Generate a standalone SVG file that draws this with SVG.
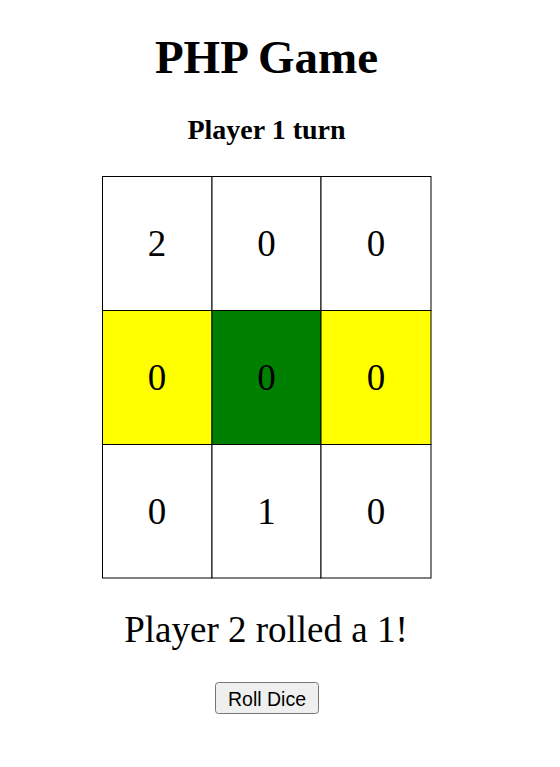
<svg xmlns="http://www.w3.org/2000/svg" width="560" height="767" viewBox="0 0 560 767">
<style>
.serif{font-family:"Liberation Serif","Times New Roman",serif;fill:#000;text-anchor:middle}
.title{font-size:47px;font-weight:bold}
.sub{font-size:28px;font-weight:bold}
.msg{font-size:37px}
.num{font-size:37px}
.cell{stroke:#000;stroke-width:1}
.w{fill:#fff}
.y{fill:#ffff00}
.g{fill:#008000}
.btn{fill:#efefef;stroke:#767676;stroke-width:1}
.btnt{font-family:"Liberation Sans",Arial,sans-serif;font-size:19.5px;fill:#000;text-anchor:middle}
</style>
<rect width="560" height="767" fill="#fff"/>
<text class="serif title" x="266.5" y="73">PHP Game</text>
<text class="serif sub" x="266.5" y="139">Player 1 turn</text>
<g id="board">
<g id="c11"><rect class="cell w" x="102.5" y="176.5" width="109.5" height="134"/><text class="serif num" x="157" y="256">2</text></g>
<g id="c12"><rect class="cell w" x="212" y="176.5" width="109" height="134"/><text class="serif num" x="266.5" y="256">0</text></g>
<g id="c13"><rect class="cell w" x="321" y="176.5" width="110" height="134"/><text class="serif num" x="376" y="256">0</text></g>
<g id="c21"><rect class="cell y" x="102.5" y="310.5" width="109.5" height="134"/><text class="serif num" x="157" y="390">0</text></g>
<g id="c22"><rect class="cell g" x="212" y="310.5" width="109" height="134"/><text class="serif num" x="266.5" y="390">0</text></g>
<g id="c23"><rect class="cell y" x="321" y="310.5" width="110" height="134"/><text class="serif num" x="376" y="390">0</text></g>
<g id="c31"><rect class="cell w" x="102.5" y="444.5" width="109.5" height="133.5"/><text class="serif num" x="157" y="524">0</text></g>
<g id="c32"><rect class="cell w" x="212" y="444.5" width="109" height="133.5"/><text class="serif num" x="266.5" y="524">1</text></g>
<g id="c33"><rect class="cell w" x="321" y="444.5" width="110" height="133.5"/><text class="serif num" x="376" y="524">0</text></g>
</g>
<g id="connectors"></g>
<text class="serif msg" x="266" y="642">Player 2 rolled a 1!</text>
<g id="roll-dice">
<rect class="btn" x="215.5" y="682.5" width="103" height="31" rx="3"/>
<text class="btnt" x="267" y="706">Roll Dice</text>
</g>
</svg>
